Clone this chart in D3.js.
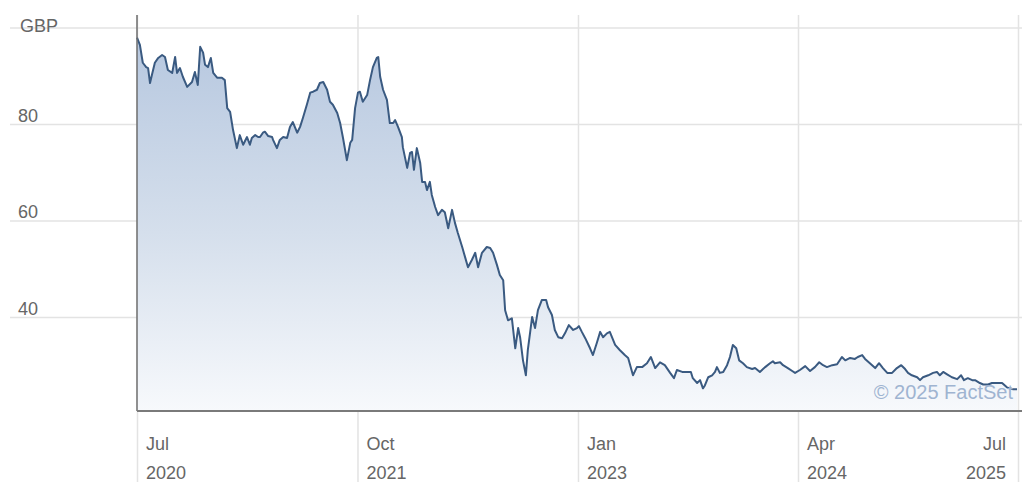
<!DOCTYPE html>
<html>
<head>
<meta charset="utf-8">
<script src="https://cdn.jsdelivr.net/npm/d3@7"></script>
<style>
  html, body { margin: 0; padding: 0; background: #fff; }
  svg { display: block; }
  text { font-family: "Liberation Sans", Arial, Helvetica, sans-serif; }
</style>
</head>
<body>
<svg id="chart" width="1024" height="501"></svg>
<script>
// ---- Data ----
const dates = [
"2020-07-01","2020-07-07","2020-07-13","2020-07-20","2020-07-24","2020-07-28","2020-08-01","2020-08-07","2020-08-14","2020-08-22","2020-08-28","2020-09-03","2020-09-12","2020-09-18","2020-09-22","2020-09-28","2020-10-04","2020-10-13","2020-10-23","2020-10-29","2020-11-04","2020-11-09","2020-11-15","2020-11-19","2020-11-25","2020-12-01","2020-12-06","2020-12-14","2020-12-24","2020-12-30",
"2021-01-04","2021-01-10","2021-01-16","2021-01-24","2021-01-30","2021-02-06","2021-02-14","2021-02-20","2021-02-24","2021-03-03","2021-03-09","2021-03-13","2021-03-19","2021-03-23","2021-03-30","2021-04-07","2021-04-09","2021-04-17","2021-04-23","2021-04-30","2021-05-08","2021-05-14","2021-05-20","2021-05-29","2021-06-04","2021-06-10","2021-06-18","2021-06-25","2021-07-01","2021-07-09","2021-07-15","2021-07-22","2021-07-30","2021-08-05","2021-08-11","2021-08-20","2021-08-26","2021-09-01","2021-09-09","2021-09-16","2021-09-20","2021-09-26","2021-10-02","2021-10-06","2021-10-12","2021-10-21","2021-10-27","2021-11-02","2021-11-10","2021-11-13","2021-11-17","2021-11-23","2021-12-01","2021-12-07","2021-12-14","2021-12-18","2021-12-24",
"2022-01-01","2022-01-03","2022-01-12","2022-01-18","2022-01-22","2022-01-26","2022-02-01","2022-02-08","2022-02-12","2022-02-18","2022-02-22","2022-02-28","2022-03-04","2022-03-11","2022-03-17","2022-03-25","2022-03-31","2022-04-07","2022-04-15","2022-04-21","2022-04-27","2022-05-06","2022-05-12","2022-05-18","2022-05-26","2022-06-02","2022-06-08","2022-06-16","2022-06-26","2022-07-03","2022-07-09","2022-07-17","2022-07-23","2022-07-30","2022-08-03","2022-08-09","2022-08-17","2022-08-24","2022-08-30","2022-09-03","2022-09-09","2022-09-15","2022-09-19","2022-09-28","2022-10-04","2022-10-10","2022-10-18","2022-10-27","2022-10-31","2022-11-08","2022-11-14","2022-11-21","2022-11-29","2022-12-05","2022-12-13","2022-12-22","2022-12-30",
"2023-01-03","2023-01-09","2023-01-16","2023-01-26","2023-02-01","2023-02-09","2023-02-16","2023-02-22","2023-03-02","2023-03-08","2023-03-19","2023-03-29","2023-04-08","2023-04-15","2023-04-25","2023-05-03","2023-05-14","2023-05-24","2023-06-01","2023-06-10","2023-06-20","2023-06-30","2023-07-11","2023-07-19","2023-07-25","2023-08-05","2023-08-15","2023-08-23","2023-08-27","2023-09-05","2023-09-11","2023-09-17","2023-09-21","2023-09-28","2023-10-06","2023-10-12","2023-10-16","2023-10-22","2023-10-29","2023-11-06","2023-11-12","2023-11-18","2023-11-25","2023-12-01","2023-12-09","2023-12-17","2023-12-28",
"2024-01-03","2024-01-13","2024-01-24","2024-02-03","2024-02-09","2024-02-13","2024-02-24","2024-03-01","2024-03-11","2024-03-20","2024-03-26","2024-04-05","2024-04-16","2024-04-26","2024-05-06","2024-05-15","2024-05-23","2024-05-31","2024-06-11","2024-06-21","2024-07-01","2024-07-08","2024-07-18","2024-07-28","2024-08-03","2024-08-12","2024-08-18","2024-08-28","2024-09-08","2024-09-16","2024-09-24","2024-10-03","2024-10-13","2024-10-23","2024-11-01","2024-11-09","2024-11-15","2024-11-23","2024-12-04","2024-12-10","2024-12-16","2024-12-27",
"2025-01-06","2025-01-14","2025-01-20","2025-01-27","2025-02-04","2025-02-14","2025-02-25","2025-03-05","2025-03-11","2025-03-19","2025-03-28","2025-04-03","2025-04-13","2025-04-20","2025-04-30","2025-05-08","2025-05-19","2025-05-29","2025-06-08","2025-06-14","2025-06-21","2025-06-29"
];
const prices = [
97.9,96.4,92.7,91.8,91.6,88.5,90.2,92.7,93.7,94.3,93.9,91.2,90.6,93.9,90.6,91.6,89.8,87.7,88.7,90.8,88.1,96.0,94.8,92.3,91.8,93.7,90.6,89.6,89.6,89.1,
83.3,82.5,78.8,75.0,77.7,75.7,77.3,75.7,77.1,77.7,77.3,77.3,78.2,78.4,77.5,77.3,76.7,75.0,76.7,77.3,77.1,79.4,80.4,78.2,79.4,81.3,84.0,86.5,86.7,87.1,88.5,88.7,87.1,84.6,84.0,82.3,80.2,77.1,72.5,76.1,76.7,83.3,86.5,86.7,84.6,86.0,89.1,91.8,93.7,93.9,89.8,87.1,85.0,80.2,80.2,80.8,79.4,
77.3,75.2,70.9,74.0,74.2,70.5,75.0,71.9,68.0,68.0,66.3,68.0,65.3,62.8,61.1,62.2,61.7,58.4,62.2,59.5,57.4,54.5,52.4,50.3,51.8,53.3,50.3,53.3,54.5,54.3,53.3,50.8,48.7,47.6,41.4,39.3,39.7,33.5,37.7,35.8,31.0,27.9,33.1,40.0,37.7,41.4,43.5,43.5,42.0,40.4,37.3,35.8,35.6,36.6,38.3,37.3,37.7,
38.1,36.9,35.6,33.5,32.1,34.6,36.9,35.8,36.6,36.9,34.2,33.1,32.1,31.5,27.9,29.6,29.6,30.4,31.7,29.4,30.6,30.0,28.4,27.3,29.0,28.6,28.6,28.6,27.3,26.3,26.9,25.2,25.8,27.5,27.9,28.6,29.6,28.4,28.6,30.0,31.7,34.2,33.5,31.0,30.4,29.6,29.2,
29.4,28.6,29.6,30.4,30.8,30.4,30.6,30.0,29.4,28.8,28.4,29.0,29.8,28.8,29.6,30.6,30.0,29.6,30.0,30.2,31.7,31.0,31.5,31.3,31.7,32.1,31.3,30.4,29.4,30.4,29.4,28.4,28.4,29.4,30.0,29.2,28.4,27.9,27.5,26.9,27.5,27.9,
28.4,28.6,27.9,28.6,28.1,27.5,27.1,27.9,26.9,27.3,26.9,26.9,26.3,26.0,26.0,26.3,26.3,26.3,25.4,25.2,25.0,25.0
];
const yTickValues = [40, 60, 80, 100];
const yTickLabels = ["40", "60", "80", "GBP"];
const xTickDates = ["2020-07-01", "2021-10-01", "2023-01-01", "2024-04-01", "2025-07-01"];
const xTickMonths = ["Jul", "Oct", "Jan", "Apr", "Jul"];
const xTickYears = ["2020", "2021", "2023", "2024", "2025"];
const xDomain = ["2020-07-01", "2025-07-01"];
const yDomain = [20.5, 102.6];
const copyrightText = "\u00A9 2025 FactSet";

(function () {
  // ---- Layout ----
  const parse = d3.utcParse("%Y-%m-%d");
  const plotL = 137, plotR = 1018, plotT = 15, plotB = 411;
  const gridL = 10, gridR = 1022, tickB = 482;

  const data = dates.map((d, i) => ({ date: parse(d), value: prices[i] }));

  const x = d3.scaleUtc().domain(xDomain.map(parse)).range([plotL, plotR]);
  const y = d3.scaleLinear().domain(yDomain).range([plotB, plotT]);

  const svg = d3.select("#chart");

  const defs = svg.append("defs");
  const grad = defs.append("linearGradient")
    .attr("id", "areaGrad")
    .attr("gradientUnits", "userSpaceOnUse")
    .attr("x1", 0).attr("x2", 0)
    .attr("y1", plotT).attr("y2", plotB);
  grad.append("stop").attr("offset", "0%").attr("stop-color", "#b3c5de");
  grad.append("stop").attr("offset", "55%").attr("stop-color", "#d5dfec");
  grad.append("stop").attr("offset", "100%").attr("stop-color", "#f7f9fc");

  // horizontal grid
  const yAxis = d3.axisLeft(y)
    .tickValues(yTickValues)
    .tickSize(-(gridR - gridL))
    .tickFormat("");
  const gy = svg.append("g")
    .attr("transform", `translate(${gridL},0)`)
    .call(yAxis);
  gy.select(".domain").remove();
  gy.selectAll(".tick line").attr("stroke", "#e3e3e3").attr("stroke-width", 1.5);

  // vertical grid
  const xAxis = d3.axisBottom(x)
    .tickValues(xTickDates.map(parse))
    .tickSize(tickB - plotT)
    .tickFormat("");
  const gx = svg.append("g")
    .attr("transform", `translate(0,${plotT})`)
    .call(xAxis);
  gx.select(".domain").remove();
  gx.selectAll(".tick line").attr("stroke", "#e3e3e3").attr("stroke-width", 1.5);

  // area + line
  const area = d3.area()
    .x(d => x(d.date))
    .y0(plotB)
    .y1(d => y(d.value));
  const line = d3.line()
    .x(d => x(d.date))
    .y(d => y(d.value));

  svg.append("path")
    .datum(data)
    .attr("d", area)
    .attr("fill", "url(#areaGrad)");

  svg.append("path")
    .datum(data)
    .attr("d", line)
    .attr("fill", "none")
    .attr("stroke", "#3a5a81")
    .attr("stroke-width", 2)
    .attr("stroke-linejoin", "round");

  // axis frame lines
  svg.append("line")
    .attr("x1", plotL).attr("x2", plotL)
    .attr("y1", plotT).attr("y2", plotB)
    .attr("stroke", "#6e6e6e").attr("stroke-width", 1.5);
  svg.append("line")
    .attr("x1", plotL).attr("x2", gridR)
    .attr("y1", plotB).attr("y2", plotB)
    .attr("stroke", "#7a7a7a").attr("stroke-width", 2);

  // y labels
  svg.append("g").selectAll("text")
    .data(yTickValues)
    .join("text")
    .attr("x", (d, i) => yTickLabels[i] === "GBP" ? 20 : 18)
    .attr("y", (d, i) => yTickLabels[i] === "GBP" ? y(d) + 4.5 : y(d) - 2)
    .attr("font-size", 18)
    .attr("fill", "#666")
    .text((d, i) => yTickLabels[i]);

  // x labels
  const n = xTickDates.length;
  const xl = svg.append("g").selectAll("g")
    .data(xTickDates)
    .join("g");
  xl.append("text")
    .attr("x", (d, i) => i === n - 1 ? x(parse(d)) - 12 : x(parse(d)) + 9)
    .attr("y", 450)
    .attr("text-anchor", (d, i) => i === n - 1 ? "end" : "start")
    .attr("font-size", 18)
    .attr("fill", "#666")
    .text((d, i) => xTickMonths[i]);
  xl.append("text")
    .attr("x", (d, i) => i === n - 1 ? x(parse(d)) - 12 : x(parse(d)) + 9)
    .attr("y", 479)
    .attr("text-anchor", (d, i) => i === n - 1 ? "end" : "start")
    .attr("font-size", 18)
    .attr("fill", "#666")
    .text((d, i) => xTickYears[i]);

  // copyright
  svg.append("text")
    .attr("x", 1013)
    .attr("y", 399)
    .attr("text-anchor", "end")
    .attr("font-size", 20)
    .attr("fill", "#9fb4d1")
    .text(copyrightText);
})();
</script>
</body>
</html>
